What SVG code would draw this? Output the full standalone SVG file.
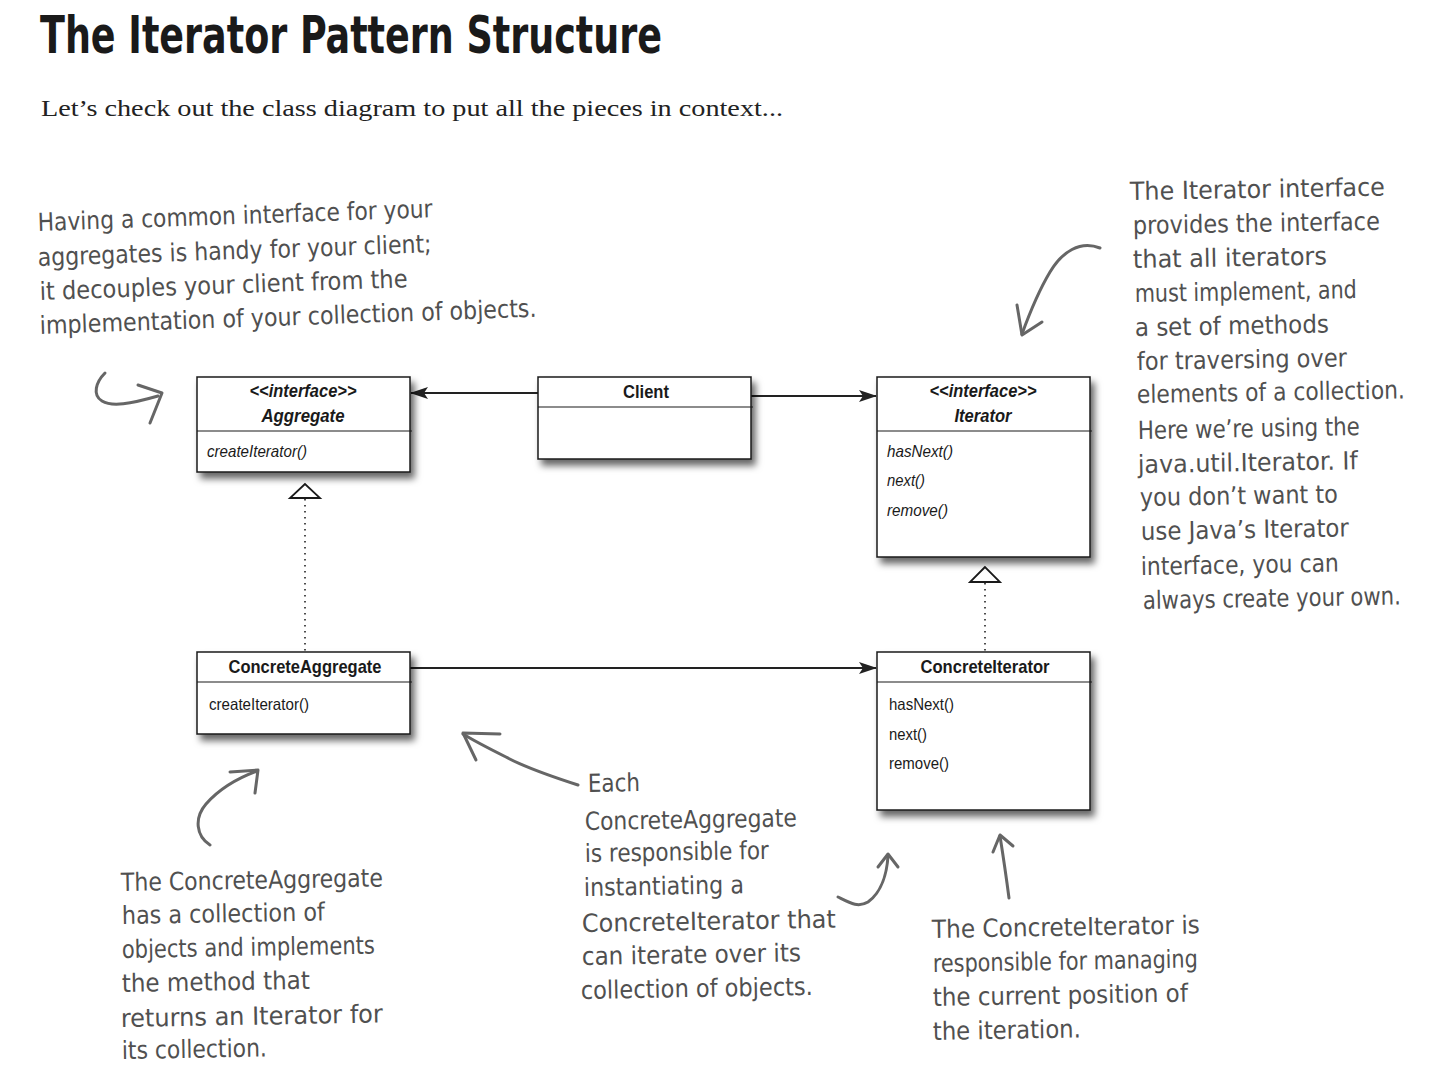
<svg xmlns="http://www.w3.org/2000/svg" width="1445" height="1073" viewBox="0 0 1445 1073">
<style>
.box{fill:#fff;stroke:#1a1a1a;stroke-width:1.5}
.div{stroke:#1a1a1a;stroke-width:1.2}
.hd{font-family:"Liberation Sans",Arial,sans-serif;font-weight:bold;font-size:18.5px;fill:#1a1a1a;text-anchor:middle}
.hdi{font-family:"Liberation Sans",Arial,sans-serif;font-weight:bold;font-style:italic;font-size:18px;fill:#1a1a1a;text-anchor:middle}
.m{font-family:"Liberation Sans",Arial,sans-serif;font-size:16.5px;fill:#1a1a1a}
.mi{font-family:"Liberation Sans",Arial,sans-serif;font-style:italic;font-size:16.5px;fill:#1a1a1a}
.conn{stroke:#222;stroke-width:2;fill:none}
.dot{stroke:#222;stroke-width:1.6;stroke-dasharray:1.5 4.5;fill:none}
.tri{fill:#fff;stroke:#1a1a1a;stroke-width:1.8}
.hand{font-family:"DejaVu Sans Condensed","DejaVu Sans",sans-serif;font-size:25px;fill:#505050}
.ha{stroke:#666;stroke-width:3;fill:none;stroke-linecap:round;stroke-linejoin:round}
</style>
<defs>
<filter id="sh" x="-10%" y="-10%" width="130%" height="140%">
<feDropShadow dx="4" dy="6" stdDeviation="3.5" flood-color="#000" flood-opacity="0.6"/>
</filter>
<marker id="arr" viewBox="0 0 18 12" refX="17" refY="6" markerWidth="18" markerHeight="12" markerUnits="userSpaceOnUse" orient="auto">
<path d="M0,0 L18,6 L0,12 L4,6 z" fill="#222"/>
</marker>
</defs>

<text x="40" y="53" font-family="'DejaVu Sans Condensed','DejaVu Sans',sans-serif" font-weight="bold" font-size="52" fill="#1a1a1a" textLength="622" lengthAdjust="spacingAndGlyphs">The Iterator Pattern Structure</text>
<text x="41" y="116" font-family="'Liberation Serif','Times New Roman',serif" font-size="24" fill="#222" textLength="742" lengthAdjust="spacingAndGlyphs">Let’s check out the class diagram to put all the pieces in context...</text>

<g id="connectors">
<line class="conn" x1="538" y1="393" x2="411" y2="393" marker-end="url(#arr)"/>
<line class="conn" x1="751" y1="396" x2="876" y2="396" marker-end="url(#arr)"/>
<line class="conn" x1="410" y1="668" x2="876" y2="668" marker-end="url(#arr)"/>
<line class="dot" x1="305" y1="499" x2="305" y2="652"/>
<polygon class="tri" points="305,484 290,498 320,498"/>
<line class="dot" x1="985" y1="583" x2="985" y2="652"/>
<polygon class="tri" points="985,567 970,582 1000,582"/>
</g>

<g id="aggregate">
<rect class="box" x="197" y="377" width="213" height="95" filter="url(#sh)"/>
<line class="div" x1="197" y1="431" x2="412" y2="431"/>
<text class="hdi" x="303" y="397" textLength="107" lengthAdjust="spacingAndGlyphs">&lt;&lt;interface&gt;&gt;</text>
<text class="hdi" x="303" y="422" textLength="83" lengthAdjust="spacingAndGlyphs">Aggregate</text>
<text class="mi" x="207" y="457" textLength="100" lengthAdjust="spacingAndGlyphs">createIterator()</text>
</g>

<g id="client">
<rect class="box" x="538" y="377" width="213" height="82" filter="url(#sh)"/>
<line class="div" x1="538" y1="407" x2="753" y2="407"/>
<text class="hd" x="646" y="398" textLength="46" lengthAdjust="spacingAndGlyphs">Client</text>
</g>

<g id="iterator">
<rect class="box" x="877" y="377" width="213" height="180" filter="url(#sh)"/>
<line class="div" x1="877" y1="431" x2="1092" y2="431"/>
<text class="hdi" x="983" y="397" textLength="107" lengthAdjust="spacingAndGlyphs">&lt;&lt;interface&gt;&gt;</text>
<text class="hdi" x="983" y="422" textLength="57" lengthAdjust="spacingAndGlyphs">Iterator</text>
<text class="mi" x="887" y="457" textLength="66" lengthAdjust="spacingAndGlyphs">hasNext()</text>
<text class="mi" x="887" y="486" textLength="38" lengthAdjust="spacingAndGlyphs">next()</text>
<text class="mi" x="887" y="516" textLength="61" lengthAdjust="spacingAndGlyphs">remove()</text>
</g>

<g id="concreteAggregate">
<rect class="box" x="197" y="652" width="213" height="82" filter="url(#sh)"/>
<line class="div" x1="197" y1="682" x2="412" y2="682"/>
<text class="hd" x="305" y="673" textLength="153" lengthAdjust="spacingAndGlyphs">ConcreteAggregate</text>
<text class="m" x="209" y="710" textLength="100" lengthAdjust="spacingAndGlyphs">createIterator()</text>
</g>

<g id="concreteIterator">
<rect class="box" x="877" y="652" width="213" height="158" filter="url(#sh)"/>
<line class="div" x1="877" y1="682" x2="1092" y2="682"/>
<text class="hd" x="985" y="673" textLength="129" lengthAdjust="spacingAndGlyphs">ConcreteIterator</text>
<text class="m" x="889" y="710" textLength="65" lengthAdjust="spacingAndGlyphs">hasNext()</text>
<text class="m" x="889" y="740" textLength="38" lengthAdjust="spacingAndGlyphs">next()</text>
<text class="m" x="889" y="769" textLength="60" lengthAdjust="spacingAndGlyphs">remove()</text>
</g>

<g id="note-aggregate">
<text class="hand" x="38" y="231" transform="rotate(-2 38 231)" textLength="395" lengthAdjust="spacingAndGlyphs">Having a common interface for your</text>
<text class="hand" x="38" y="266" transform="rotate(-2 38 266)" textLength="394" lengthAdjust="spacingAndGlyphs">aggregates is handy for your client;</text>
<text class="hand" x="40" y="300" transform="rotate(-2 40 300)" textLength="368" lengthAdjust="spacingAndGlyphs">it decouples your client from the</text>
<text class="hand" x="40" y="334" transform="rotate(-2 40 334)" textLength="497" lengthAdjust="spacingAndGlyphs">implementation of your collection of objects.</text>
<path class="ha" d="M105,373 C96,382 92,395 102,401 C112,407 130,404 158,396"/>
<path class="ha" d="M138,385 L162,393 L150,423"/>
</g>

<g id="note-iterator">
<text class="hand" x="1130" y="200" transform="rotate(-1 1130 200)" textLength="255" lengthAdjust="spacingAndGlyphs">The Iterator interface</text>
<text class="hand" x="1133" y="234" transform="rotate(-1 1133 234)" textLength="247" lengthAdjust="spacingAndGlyphs">provides the interface</text>
<text class="hand" x="1133" y="268" transform="rotate(-1 1133 268)" textLength="194" lengthAdjust="spacingAndGlyphs">that all iterators</text>
<text class="hand" x="1135" y="302" transform="rotate(-1 1135 302)" textLength="222" lengthAdjust="spacingAndGlyphs">must implement, and</text>
<text class="hand" x="1135" y="336" transform="rotate(-1 1135 336)" textLength="194" lengthAdjust="spacingAndGlyphs">a set of methods</text>
<text class="hand" x="1137" y="370" transform="rotate(-1 1137 370)" textLength="210" lengthAdjust="spacingAndGlyphs">for traversing over</text>
<text class="hand" x="1137" y="403" transform="rotate(-1 1137 403)" textLength="268" lengthAdjust="spacingAndGlyphs">elements of a collection.</text>
<text class="hand" x="1138" y="439" transform="rotate(-1 1138 439)" textLength="222" lengthAdjust="spacingAndGlyphs">Here we’re using the</text>
<text class="hand" x="1138" y="473" transform="rotate(-1 1138 473)" textLength="220" lengthAdjust="spacingAndGlyphs">java.util.Iterator. If</text>
<text class="hand" x="1140" y="506" transform="rotate(-1 1140 506)" textLength="198" lengthAdjust="spacingAndGlyphs">you don’t want to</text>
<text class="hand" x="1141" y="540" transform="rotate(-1 1141 540)" textLength="208" lengthAdjust="spacingAndGlyphs">use Java’s Iterator</text>
<text class="hand" x="1141" y="575" transform="rotate(-1 1141 575)" textLength="198" lengthAdjust="spacingAndGlyphs">interface, you can</text>
<text class="hand" x="1143" y="609" transform="rotate(-1 1143 609)" textLength="258" lengthAdjust="spacingAndGlyphs">always create your own.</text>
<path class="ha" d="M1100,248 C1080,240 1062,252 1050,272 C1038,292 1030,312 1022,334"/>
<path class="ha" d="M1017,305 L1022,335 L1042,322"/>
</g>

<g id="note-concreteAggregate">
<text class="hand" x="121" y="891" transform="rotate(-1 121 891)" textLength="262" lengthAdjust="spacingAndGlyphs">The ConcreteAggregate</text>
<text class="hand" x="122" y="924" transform="rotate(-1 122 924)" textLength="203" lengthAdjust="spacingAndGlyphs">has a collection of</text>
<text class="hand" x="122" y="958" transform="rotate(-1 122 958)" textLength="253" lengthAdjust="spacingAndGlyphs">objects and implements</text>
<text class="hand" x="122" y="992" transform="rotate(-1 122 992)" textLength="188" lengthAdjust="spacingAndGlyphs">the method that</text>
<text class="hand" x="121" y="1027" transform="rotate(-1 121 1027)" textLength="262" lengthAdjust="spacingAndGlyphs">returns an Iterator for</text>
<text class="hand" x="122" y="1059" transform="rotate(-1 122 1059)" textLength="145" lengthAdjust="spacingAndGlyphs">its collection.</text>
<path class="ha" d="M210,845 C196,836 194,818 206,804 C220,788 238,778 257,771"/>
<path class="ha" d="M230,772 L258,770 L255,793"/>
</g>

<g id="note-each">
<text class="hand" x="588" y="792" transform="rotate(-1 588 792)" textLength="52" lengthAdjust="spacingAndGlyphs">Each</text>
<text class="hand" x="585" y="830" transform="rotate(-1 585 830)" textLength="212" lengthAdjust="spacingAndGlyphs">ConcreteAggregate</text>
<text class="hand" x="585" y="862" transform="rotate(-1 585 862)" textLength="184" lengthAdjust="spacingAndGlyphs">is responsible for</text>
<text class="hand" x="584" y="896" transform="rotate(-1 584 896)" textLength="160" lengthAdjust="spacingAndGlyphs">instantiating a</text>
<text class="hand" x="582" y="932" transform="rotate(-1 582 932)" textLength="254" lengthAdjust="spacingAndGlyphs">ConcreteIterator that</text>
<text class="hand" x="582" y="965" transform="rotate(-1 582 965)" textLength="219" lengthAdjust="spacingAndGlyphs">can iterate over its</text>
<text class="hand" x="581" y="999" transform="rotate(-1 581 999)" textLength="232" lengthAdjust="spacingAndGlyphs">collection of objects.</text>
<path class="ha" d="M578,785 C550,776 526,768 506,757 C490,749 476,742 463,734"/>
<path class="ha" d="M500,734 L463,733 L476,760"/>
<path class="ha" d="M838,897 C850,903 858,908 868,902 C882,892 887,872 888,856"/>
<path class="ha" d="M878,867 L888,854 L898,867"/>
</g>

<g id="note-concreteIterator">
<text class="hand" x="932" y="938" transform="rotate(-1 932 938)" textLength="268" lengthAdjust="spacingAndGlyphs">The ConcreteIterator is</text>
<text class="hand" x="933" y="972" transform="rotate(-1 933 972)" textLength="265" lengthAdjust="spacingAndGlyphs">responsible for managing</text>
<text class="hand" x="933" y="1006" transform="rotate(-1 933 1006)" textLength="255" lengthAdjust="spacingAndGlyphs">the current position of</text>
<text class="hand" x="933" y="1040" transform="rotate(-1 933 1040)" textLength="148" lengthAdjust="spacingAndGlyphs">the iteration.</text>
<path class="ha" d="M1009,898 C1006,875 1003,855 1000,836"/>
<path class="ha" d="M993,852 L1000,835 L1013,846"/>
</g>
</svg>
